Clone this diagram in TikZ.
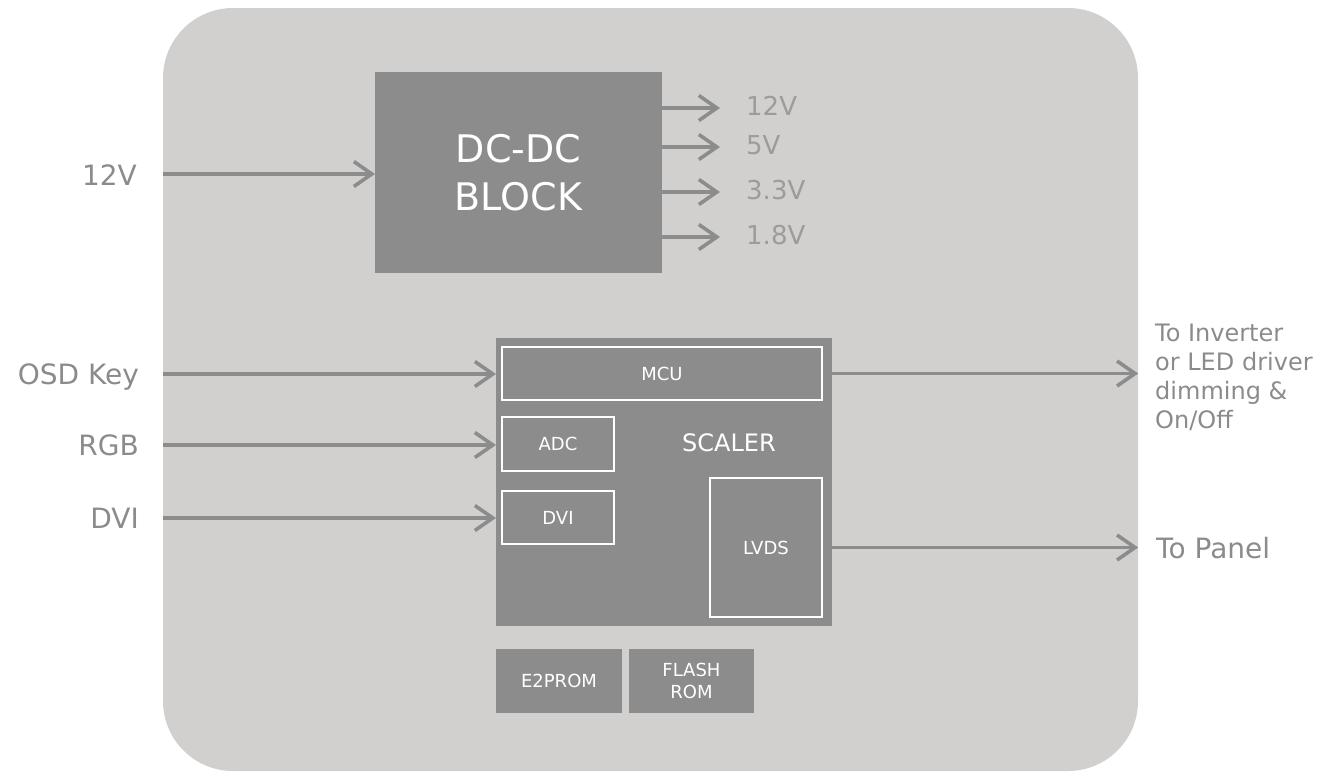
\documentclass[tikz,border=0pt]{standalone}
\usepackage{fontspec}
\setmainfont{DejaVu Sans}
\usetikzlibrary{arrows.meta,positioning}
\definecolor{board}{HTML}{D1D0CE}
\definecolor{blk}{HTML}{8C8C8D}
\definecolor{wire}{HTML}{8C8C8C}
\definecolor{lbl}{HTML}{8B8B8B}
\definecolor{lblin}{HTML}{9C9C9C}
\newcommand{\fsz}[2]{\fontsize{#1}{#2}\selectfont}

\begin{document}
\begin{tikzpicture}[x=1pt,y=-1pt,>={Straight Barb[length=18pt,width=25pt]}]
\tikzstyle{b}=[fill=blk,inner sep=0pt,outer sep=0pt,text=white]
\tikzstyle{sub}=[draw=white,line width=1.2pt,inner sep=0pt,text=white,font=\fsz{18}{22}]
\tikzstyle{w}=[draw=wire,line width=3.6pt,->]
\tikzstyle{l}=[text=lbl,inner sep=0pt,font=\fsz{28}{32}]
\useasboundingbox (0,0) rectangle (1335,771);
\node[fill=board,rounded corners=70pt,minimum width=975pt,minimum height=763pt,inner sep=0pt] (board) at (650.5,389.5) {};
% power
\node[b,minimum width=287pt,minimum height=201pt,align=center,font=\fsz{38}{48}] (dcdc) at (518.5,172.5) {DC-DC\\BLOCK};
\node[l,anchor=base east] (vin) at (137,185) {12V};
\draw[w] (board.west |- 0,174) -- (dcdc.west |- 0,174);
\foreach \v/\y [count=\i] in {12V/108,5V/147,3.3V/192,1.8V/237} {
  \node[l,text=lblin,anchor=west,font=\fsz{26}{30}] (out\i) at (746,\y-2) {\v};
  \draw[w] (dcdc.east |- 0,\y) -- ([xshift=-26pt]out\i.west |- 0,\y);
}
% scaler
\node[b,minimum width=336pt,minimum height=288pt] (scaler) at (664,482) {};
\node[text=white,font=\fsz{24}{28}] (scalerlbl) at (729,443) {SCALER};
\node[sub,minimum width=320pt,minimum height=53pt] (mcu) at (662,373.5) {MCU};
\node[sub,minimum width=112pt,minimum height=54pt] (adc) at (558,444) {ADC};
\node[sub,minimum width=112pt,minimum height=53pt] (dvi) at (558,517.5) {DVI};
\node[sub,minimum width=112pt,minimum height=139pt] (lvds) at (766,547.5) {LVDS};
\node[b,minimum width=126pt,minimum height=64pt,font=\fsz{18}{22}] (eeprom) at (559,681) {E2PROM};
\node[b,minimum width=125pt,minimum height=64pt,align=center,font=\fsz{18}{22}] (flash) at (691.5,681) {FLASH\\ROM};
% inputs
\foreach \n/\t/\y in {osd/OSD Key/374,rgb/RGB/445,dvin/DVI/518} {
  \node[l,anchor=base east] (\n) at (139,\y+10) {\t};
  \draw[w] (board.west |- 0,\y) -- (scaler.west |- 0,\y);
}
% outputs
\node[l,anchor=west,align=left,font=\fsz{24}{29}] (inv) at (1155,377) {To Inverter\\or LED driver\\dimming \&\\On/Off};
\draw[w] (scaler.east |- mcu) -- (board.east |- mcu);
\node[l,anchor=west,font=\fsz{28}{32}] (panel) at (1156,548) {To Panel};
\draw[w] (scaler.east |- lvds) -- (board.east |- lvds);
\end{tikzpicture}
\end{document}
